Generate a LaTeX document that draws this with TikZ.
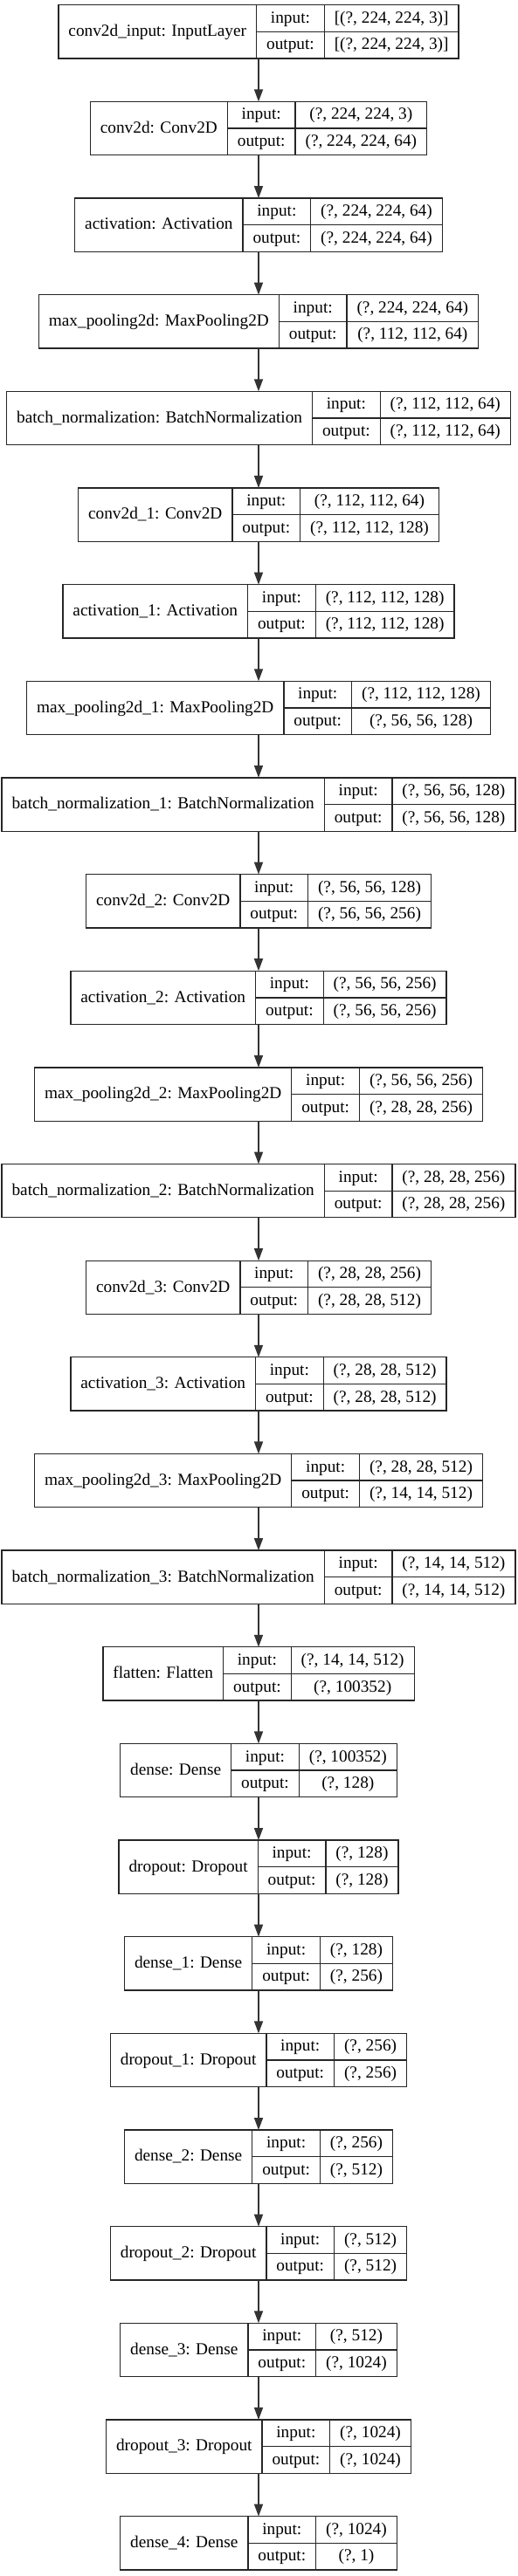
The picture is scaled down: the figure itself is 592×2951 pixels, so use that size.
\documentclass[tikz,border=0pt]{standalone}
\usepackage{fontspec}
\setmainfont{Liberation Serif}
\usetikzlibrary{arrows.meta}
\newdimen\lywa \newdimen\lywb \newdimen\lywc \newdimen\lywd
\newcommand\lyfont{\fontsize{19.3}{23}\selectfont}
\tikzset{
  rec/.style={rectangle, draw=black!85, line width=1.3pt, inner sep=0pt, outer sep=0pt},
  divline/.style={draw=black!85, line width=1.3pt},
  lbl/.style={font=\lyfont, anchor=base, inner sep=0pt},
  conn/.style={draw=black!80, line width=1.5pt, -{Triangle[length=14pt,width=10pt]}}
}
% phase 1: measure (outside the picture)
\newcommand\lymeasure[5]{%
  \setbox0=\hbox{\lyfont #3}\global\lywa=\wd0
  \setbox0=\hbox{\lyfont output:}\global\lywb=\wd0
  \setbox0=\hbox{\lyfont #4}\global\lywc=\wd0
  \setbox0=\hbox{\lyfont #5}\global\lywd=\wd0
  \ifdim\lywd>\lywc \global\lywc=\lywd \fi
  \expandafter\xdef\csname lyfa#1\endcsname{\the\lywa}%
  \expandafter\xdef\csname lyfb#1\endcsname{\the\lywb}%
  \expandafter\xdef\csname lyfc#1\endcsname{\the\lywc}%
}
% phase 2: draw (inside the picture)
\newcommand\lydraw[5]{%
  \pgfmathsetmacro\lyfa{\csname lyfa#1\endcsname+23}%
  \pgfmathsetmacro\lyfb{\csname lyfb#1\endcsname+23}%
  \pgfmathsetmacro\lyfc{\csname lyfc#1\endcsname+23}%
  \pgfmathsetmacro\lyW{\lyfa+\lyfb+\lyfc}%
  \pgfmathsetmacro\lyxl{296-\lyW/2}%
  \pgfmathsetmacro\lyxr{296+\lyW/2}%
  \pgfmathsetmacro\lyxa{\lyxl+\lyfa}%
  \pgfmathsetmacro\lyxb{\lyxa+\lyfb}%
  \pgfmathsetmacro\lyyt{5.7+110.65*#2}%
  \pgfmathsetmacro\lyym{\lyyt+30.65}%
  \pgfmathsetmacro\lyyb{\lyyt+61.3}%
  \node[rec, minimum width=\lyW pt, minimum height=61.3pt] (#1) at (296,\lyym) {};
  \draw[divline] (\lyxa,\lyyt) -- (\lyxa,\lyyb);
  \draw[divline] (\lyxb,\lyyt) -- (\lyxb,\lyyb);
  \draw[divline] (\lyxa,\lyym) -- (\lyxr,\lyym);
  \node[lbl] (#1n) at ({(\lyxl+\lyxa)/2},\lyym+5.3) {#3};
  \node[lbl] (#1a) at ({(\lyxa+\lyxb)/2},\lyyt+15.3+5.3) {input:};
  \node[lbl] (#1b) at ({(\lyxa+\lyxb)/2},\lyym+15.3+5.3) {output:};
  \node[lbl] (#1c) at ({(\lyxb+\lyxr)/2},\lyyt+15.3+5.3) {#4};
  \node[lbl] (#1d) at ({(\lyxb+\lyxr)/2},\lyym+15.3+5.3) {#5};
}
\newcommand\alllayers{%
\layer{L0}{0}{conv2d\_input: InputLayer}{[(?, 224, 224, 3)]}{[(?, 224, 224, 3)]}
\layer{L1}{1}{conv2d: Conv2D}{(?, 224, 224, 3)}{(?, 224, 224, 64)}
\layer{L2}{2}{activation: Activation}{(?, 224, 224, 64)}{(?, 224, 224, 64)}
\layer{L3}{3}{max\_pooling2d: MaxPooling2D}{(?, 224, 224, 64)}{(?, 112, 112, 64)}
\layer{L4}{4}{batch\_normalization: BatchNormalization}{(?, 112, 112, 64)}{(?, 112, 112, 64)}
\layer{L5}{5}{conv2d\_1: Conv2D}{(?, 112, 112, 64)}{(?, 112, 112, 128)}
\layer{L6}{6}{activation\_1: Activation}{(?, 112, 112, 128)}{(?, 112, 112, 128)}
\layer{L7}{7}{max\_pooling2d\_1: MaxPooling2D}{(?, 112, 112, 128)}{(?, 56, 56, 128)}
\layer{L8}{8}{batch\_normalization\_1: BatchNormalization}{(?, 56, 56, 128)}{(?, 56, 56, 128)}
\layer{L9}{9}{conv2d\_2: Conv2D}{(?, 56, 56, 128)}{(?, 56, 56, 256)}
\layer{L10}{10}{activation\_2: Activation}{(?, 56, 56, 256)}{(?, 56, 56, 256)}
\layer{L11}{11}{max\_pooling2d\_2: MaxPooling2D}{(?, 56, 56, 256)}{(?, 28, 28, 256)}
\layer{L12}{12}{batch\_normalization\_2: BatchNormalization}{(?, 28, 28, 256)}{(?, 28, 28, 256)}
\layer{L13}{13}{conv2d\_3: Conv2D}{(?, 28, 28, 256)}{(?, 28, 28, 512)}
\layer{L14}{14}{activation\_3: Activation}{(?, 28, 28, 512)}{(?, 28, 28, 512)}
\layer{L15}{15}{max\_pooling2d\_3: MaxPooling2D}{(?, 28, 28, 512)}{(?, 14, 14, 512)}
\layer{L16}{16}{batch\_normalization\_3: BatchNormalization}{(?, 14, 14, 512)}{(?, 14, 14, 512)}
\layer{L17}{17}{flatten: Flatten}{(?, 14, 14, 512)}{(?, 100352)}
\layer{L18}{18}{dense: Dense}{(?, 100352)}{(?, 128)}
\layer{L19}{19}{dropout: Dropout}{(?, 128)}{(?, 128)}
\layer{L20}{20}{dense\_1: Dense}{(?, 128)}{(?, 256)}
\layer{L21}{21}{dropout\_1: Dropout}{(?, 256)}{(?, 256)}
\layer{L22}{22}{dense\_2: Dense}{(?, 256)}{(?, 512)}
\layer{L23}{23}{dropout\_2: Dropout}{(?, 512)}{(?, 512)}
\layer{L24}{24}{dense\_3: Dense}{(?, 512)}{(?, 1024)}
\layer{L25}{25}{dropout\_3: Dropout}{(?, 1024)}{(?, 1024)}
\layer{L26}{26}{dense\_4: Dense}{(?, 1024)}{(?, 1)}
}
\begin{document}
\let\layer\lymeasure
\alllayers
\begin{tikzpicture}[x=1pt,y=-1pt]
\useasboundingbox (0,0) rectangle (592,2951);
\let\layer\lydraw
\alllayers
\foreach \i [evaluate=\i as \j using int(\i+1)] in {0,...,25}{
  \draw[conn] (L\i.south) -- (L\j.north);
}
\end{tikzpicture}
\end{document}
